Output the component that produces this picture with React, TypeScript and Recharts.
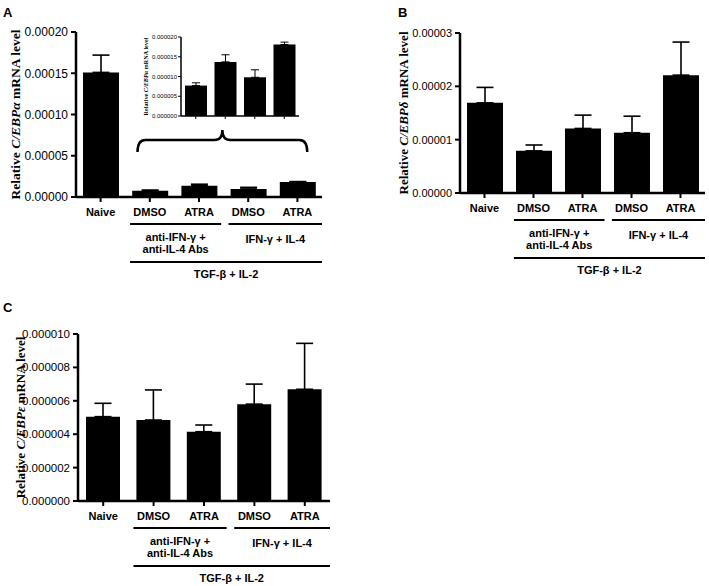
import React from "react";
import { BarChart, Bar, XAxis, YAxis, ErrorBar } from "recharts";

const SANS = "Liberation Sans, Arial, sans-serif";
const SERIF = "Liberation Serif, Times New Roman, serif";

// categories
const groups = ["naive", "abDmso", "abAtra", "ilDmso", "ilAtra"];
const groupLabels = ["Naive", "DMSO", "ATRA", "DMSO", "ATRA"];
const antibodyLabel = ["anti-IFN-γ +", "anti-IL-4 Abs"];
const cytokineLabel = "IFN-γ + IL-4";
const baseLabel = "TGF-β + IL-2";

// C/EBPα
const alphaMean = [0.000151, 0.0000077, 0.0000137, 0.0000098, 0.0000181];
const alphaErr = [0.000021, 0.0000007, 0.0000018, 0.0000019, 0.0000006];
const alphaTicks = [0, 0.00005, 0.0001, 0.00015, 0.0002];
const alphaInsetTicks = [0, 0.000005, 0.00001, 0.000015, 0.00002];

// C/EBPδ
const deltaMean = [0.0000169, 0.0000079, 0.0000121, 0.0000113, 0.0000221];
const deltaErr = [0.0000029, 0.0000011, 0.0000025, 0.0000031, 0.0000062];
const deltaTicks = [0, 0.00001, 0.00002, 0.00003];

// C/EBPε
const epsilonMean = [0.00000505, 0.00000485, 0.00000415, 0.0000058, 0.00000669];
const epsilonErr = [0.0000008, 0.0000018, 0.0000004, 0.0000012, 0.00000275];
const epsilonTicks = [0, 0.000002, 0.000004, 0.000006, 0.000008, 0.00001];

const toRows = (keys: string[], mean: number[], err: number[]) =>
  keys.map((k, i) => ({ key: k, mean: mean[i], err: [0, err[i]] }));

function AxisTitle({ lx, ly, gene, size }: any) {
  return (
    <text
      x={lx}
      y={ly}
      transform={`rotate(-90 ${lx} ${ly})`}
      textAnchor="middle"
      dominantBaseline="central"
      fontFamily={SERIF}
      fontWeight={700}
      fontSize={size}
      fill="#000"
    >
      {"Relative "}
      <tspan fontStyle="italic">{"C/EBP" + gene}</tspan>
      {" mRNA level"}
    </text>
  );
}

function GroupTick(props: any) {
  const { x, y, index, band, brace } = props;
  const axisY = y - 7;
  const txt = { fontFamily: SANS, fontWeight: 700, fontSize: 11, fill: "#000", textAnchor: "middle" as const, dominantBaseline: "central" as const };
  const lineStyle = { stroke: "#000", strokeWidth: 2 };
  let extra = null;
  if (index === 1) {
    const l1 = x - 0.4 * band;
    const r1 = x + 1.45 * band;
    const rAll = x + 3.5 * band;
    const bx1 = x - 0.25 * band;
    const bx4 = x + 3.2 * band;
    const bm = (bx1 + bx4) / 2;
    const yE = axisY - 45;
    const yF = axisY - 57;
    const yP = axisY - 67;
    extra = (
      <g>
        <line x1={l1} x2={r1} y1={axisY + 27} y2={axisY + 27} {...lineStyle} />
        <text x={(l1 + r1) / 2} y={axisY + 40} {...txt}>{antibodyLabel[0]}</text>
        <text x={(l1 + r1) / 2} y={axisY + 52} {...txt}>{antibodyLabel[1]}</text>
        <line x1={l1} x2={rAll} y1={axisY + 65} y2={axisY + 65} {...lineStyle} />
        <text x={(l1 + rAll) / 2} y={axisY + 77} {...txt}>{baseLabel}</text>
        {brace && (
          <path
            d={`M${bx1},${yE} Q${bx1},${yF} ${bx1 + 8},${yF} L${bm - 8},${yF} Q${bm},${yF} ${bm},${yP} Q${bm},${yF} ${bm + 8},${yF} L${bx4 - 8},${yF} Q${bx4},${yF} ${bx4},${yE}`}
            fill="none"
            stroke="#000"
            strokeWidth={2.5}
          />
        )}
      </g>
    );
  }
  if (index === 3) {
    const l2 = x - 0.4 * band;
    const r2 = x + 1.5 * band;
    extra = (
      <g>
        <line x1={l2} x2={r2} y1={axisY + 27} y2={axisY + 27} {...lineStyle} />
        <text x={(l2 + r2) / 2} y={axisY + 42} {...txt}>{cytokineLabel}</text>
      </g>
    );
  }
  return (
    <g>
      <text x={x} y={axisY + 15} {...txt}>{groupLabels[index]}</text>
      {extra}
    </g>
  );
}

function Panel(p: any) {
  const { rows, ticks, decimals, gene, left, top, width, height, margin, yWidth, xHeight, labelX, tickFont, titleSize, barSize, brace } = p;
  const plotW = width - margin.left - yWidth - margin.right;
  const plotH = height - margin.top - xHeight - margin.bottom;
  const band = plotW / rows.length;
  return (
    <div style={{ position: "absolute", left, top }}>
      <BarChart width={width} height={height} data={rows} margin={margin}>
        <XAxis
          dataKey="key"
          height={xHeight}
          interval={0}
          axisLine={{ stroke: "#000", strokeWidth: 2.5 }}
          tickLine={{ stroke: "#000", strokeWidth: 2 }}
          tickSize={5}
          tickMargin={2}
          tick={<GroupTick band={band} brace={brace} />}
        />
        <YAxis
          width={yWidth}
          domain={[0, ticks[ticks.length - 1]]}
          ticks={ticks}
          interval={0}
          axisLine={{ stroke: "#000", strokeWidth: 2.5 }}
          tickLine={{ stroke: "#000", strokeWidth: 2 }}
          tickSize={5}
          tickMargin={3}
          tick={{ fill: "#000", fontSize: tickFont, fontFamily: SANS }}
          tickFormatter={(v: number) => v.toFixed(decimals)}
          label={<AxisTitle lx={labelX} ly={margin.top + plotH / 2} gene={gene} size={titleSize} />}
        />
        <Bar dataKey="mean" fill="#000" barSize={barSize} isAnimationActive={false}>
          <ErrorBar dataKey="err" width={8.5} stroke="#000" strokeWidth={1.6} direction="y" />
        </Bar>
      </BarChart>
    </div>
  );
}

function Inset() {
  const rows = toRows(groups.slice(1), alphaMean.slice(1), alphaErr.slice(1));
  const margin = { top: 17, right: 11, bottom: 0, left: 11 };
  return (
    <div style={{ position: "absolute", left: 130, top: 20 }}>
      <BarChart width={180} height={105} data={rows} margin={margin}>
        <XAxis
          dataKey="key"
          height={9}
          interval={0}
          axisLine={{ stroke: "#000", strokeWidth: 1.5 }}
          tickLine={{ stroke: "#000", strokeWidth: 1 }}
          tickSize={3}
          tick={() => <g />}
        />
        <YAxis
          width={40}
          domain={[0, 0.00002]}
          ticks={alphaInsetTicks}
          interval={0}
          axisLine={{ stroke: "#000", strokeWidth: 1.5 }}
          tickLine={{ stroke: "#000", strokeWidth: 1 }}
          tickSize={3}
          tickMargin={1}
          tick={{ fill: "#000", fontSize: 6, fontFamily: SANS }}
          tickFormatter={(v: number) => v.toFixed(6)}
          label={<AxisTitle lx={15} ly={56.5} gene="α" size={6.2} />}
        />
        <Bar dataKey="mean" fill="#000" barSize={22} isAnimationActive={false}>
          <ErrorBar dataKey="err" width={4} stroke="#000" strokeWidth={1} direction="y" />
        </Bar>
      </BarChart>
    </div>
  );
}

const letter = (t: string, left: number, top: number) => (
  <div style={{ position: "absolute", left, top, fontFamily: SANS, fontWeight: 700, fontSize: 13, lineHeight: "13px" }}>{t}</div>
);

export default function App() {
  return (
    <div style={{ position: "absolute", left: 0, top: 0, width: 709, height: 586, background: "#fff", overflow: "hidden" }}>
      <Panel
        rows={toRows(groups, alphaMean, alphaErr)}
        ticks={alphaTicks}
        decimals={5}
        gene="α"
        left={0}
        top={0}
        width={340}
        height={290}
        margin={{ top: 32, right: 18, bottom: 0, left: 16 }}
        yWidth={60}
        xHeight={93}
        labelX={15}
        tickFont={12}
        titleSize={13.5}
        barSize={36}
        brace
      />
      <Inset />
      <Panel
        rows={toRows(groups, deltaMean, deltaErr)}
        ticks={deltaTicks}
        decimals={5}
        gene="δ"
        left={360}
        top={0}
        width={349}
        height={290}
        margin={{ top: 33, right: 4, bottom: 0, left: 30 }}
        yWidth={70}
        xHeight={97}
        labelX={43}
        tickFont={11}
        titleSize={13}
        barSize={36}
      />
      <Panel
        rows={toRows(groups, epsilonMean, epsilonErr)}
        ticks={epsilonTicks}
        decimals={6}
        gene="ε"
        left={0}
        top={290}
        width={340}
        height={296}
        margin={{ top: 44, right: 10, bottom: 0, left: 16 }}
        yWidth={62}
        xHeight={85}
        labelX={20}
        tickFont={11.5}
        titleSize={13}
        barSize={34}
      />
      {letter("A", 3, 6)}
      {letter("B", 398, 6)}
      {letter("C", 3, 301)}
    </div>
  );
}
